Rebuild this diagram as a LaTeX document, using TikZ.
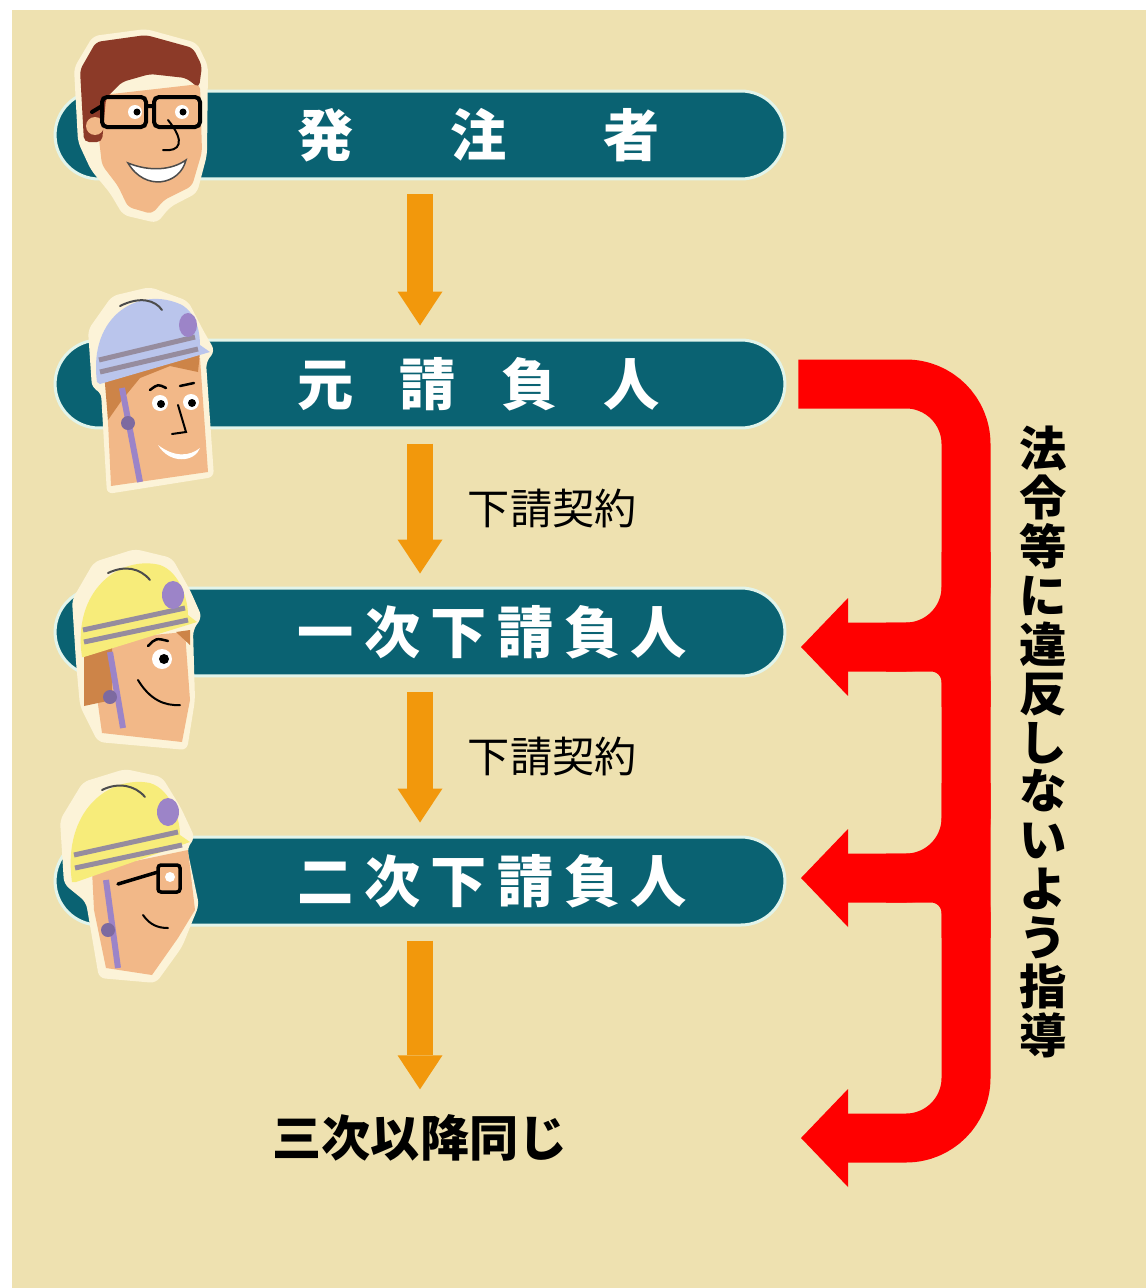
\documentclass[tikz,border=0pt]{standalone}
\usepackage{fontspec}
\newfontfamily\cjk{Noto Sans CJK JP}
\usetikzlibrary{shapes.misc, arrows.meta, positioning}

\definecolor{paper}{RGB}{238,225,176}
\definecolor{barteal}{RGB}{10,98,114}
\definecolor{barrim}{RGB}{226,244,234}
\definecolor{flowor}{RGB}{242,152,12}
\definecolor{guidered}{RGB}{255,0,0}
\definecolor{rim}{RGB}{252,243,216}
\definecolor{skin}{RGB}{242,184,136}
\definecolor{hairbrown}{RGB}{140,58,40}
\definecolor{hairtan}{RGB}{205,132,72}
\definecolor{helmetblue}{RGB}{186,197,236}
\definecolor{helmetyel}{RGB}{247,236,122}
\definecolor{stripe}{RGB}{150,140,158}
\definecolor{lamp}{RGB}{156,132,200}

\begin{document}
\begin{tikzpicture}[x=0.02cm, y=-0.02cm,
    bar/.style={rounded rectangle, minimum width=14.6cm, minimum height=1.76cm, inner sep=0, fill=barteal, draw=barrim, line width=0.06cm},
    bartext/.style={anchor=west, inner sep=0, text=white, font=\cjk\bfseries\fontsize{32pt}{32pt}\selectfont},
    flow/.style={draw=flowor, line width=0.52cm, -{Triangle[width=0.9cm, length=0.68cm, line width=0pt]}, shorten <=0.28cm, shorten >=0.26cm},
    contract/.style={right=0.7cm, inner sep=0, font=\cjk\fontsize{24pt}{24pt}\selectfont},
    guide/.style={draw=guidered, line width=0.98cm, rounded corners=1.2cm},
    guidetip/.style={-{Triangle[width=1.96cm, length=0.94cm, line width=0pt]}},
    face/.style={line width=0.04cm, line cap=round}]

    \useasboundingbox (0,0) rectangle (1146,1288);
    \fill[white] (0,0) rectangle (1146,1288);
    \fill[paper] (12,10) rectangle (1146,1288);

    % the four parties
    \node[bar] (hatchu) at (420,135) {};
    \node[bar] (motouke) at (420,384) {};
    \node[bar] (ichiji) at (420,632) {};
    \node[bar] (niji) at (420,881) {};
    \node[inner sep=0, font=\cjk\bfseries\fontsize{28pt}{28pt}\selectfont] (sanji) at (420,1138) {三次以降同じ};

    \node[bartext] (t-hatchu) at (297,135) {発\hspace{1.94cm}注\hspace{1.94cm}者};
    \node[bartext] (t-motouke) at (297,384) {元\hspace{0.92cm}請\hspace{0.92cm}負\hspace{0.92cm}人};
    \node[bartext] (t-ichiji) at (297,632) {一\hspace{0.21cm}次\hspace{0.21cm}下\hspace{0.21cm}請\hspace{0.21cm}負\hspace{0.21cm}人};
    \node[bartext] (t-niji) at (297,881) {二\hspace{0.21cm}次\hspace{0.21cm}下\hspace{0.21cm}請\hspace{0.21cm}負\hspace{0.21cm}人};

    % contract flow
    \draw[flow] (hatchu) -- (motouke);
    \draw[flow] (motouke) -- node[contract] (c1) {下請契約} (ichiji);
    \draw[flow] (ichiji) -- node[contract] (c2) {下請契約} (niji);
    \draw[flow, shorten >=0.5cm] (niji) -- (sanji);

    % guidance bracket
    \coordinate (spine) at (966,384);
    \coordinate (tip1) at (801,647);
    \coordinate (tip2) at (801,878);
    \coordinate (tip3) at (801,1138);
    \coordinate (join1) at (spine |- tip1);
    \coordinate (join2) at (spine |- tip2);
    \draw[guide, guidetip] ([xshift=0.24cm]motouke.east) -- (spine) -- (spine |- tip3) -- (tip3);
    \draw[guide, guidetip] ([yshift=1.9cm]join1) -- (join1) -- (tip1);
    \draw[guide, rounded corners=0.7cm] ([yshift=-1.2cm]join1) -- (join1) -- ([xshift=-1.6cm]join1);
    \draw[guide, guidetip] ([yshift=1.9cm]join2) -- (join2) -- (tip2);
    \draw[guide, rounded corners=0.7cm] ([yshift=-1.2cm]join2) -- (join2) -- ([xshift=-1.6cm]join2);

    \node[inner sep=0, align=center, font=\cjk\bfseries\fontsize{27pt}{27.8pt}\selectfont] (shidou) at (1043,742)
        {法\\令\\等\\に\\違\\反\\し\\な\\い\\よ\\う\\指\\導};

    % client head
    \fill[rim, rounded corners=0.12cm] (78,142) -- (74,68) -- (93,36) -- (146,29) -- (197,43) -- (208,66) -- (207,155) -- (197,193) -- (170,207) -- (157,223) -- (123,215) -- (110,193) -- (91,170) -- cycle;
    \fill[skin, rounded corners=0.1cm] (94,96) -- (200,84) -- (202,152) -- (192,186) -- (164,200) -- (152,214) -- (128,207) -- (118,186) -- (102,165) -- cycle;
    \fill[hairbrown, rounded corners=0.1cm] (84,142) -- (80,70) -- (96,42) -- (146,35) -- (193,48) -- (202,66) -- (199,88) -- (186,78) -- (150,74) -- (122,82) -- (106,98) -- (102,142) -- cycle;
    \fill[skin] (95,126) circle (9);
    \draw[face, line width=0.08cm, rounded corners=0.1cm] (102,97) rectangle (146,127) (154,97) rectangle (200,127);
    \draw[face, line width=0.08cm] (146,106) -- (154,106) (102,106) -- (92,112);
    \fill[white] (135,112) circle (7) (182,112) circle (7);
    \fill (137,112) circle (3.5) (183,112) circle (3.5);
    \draw[face] (168,120) .. controls (186,142) and (180,152) .. (163,150);
    \filldraw[fill=white, draw=black!70, line width=0.03cm] (128,163) .. controls (150,172) and (172,170) .. (186,160) .. controls (180,185) and (145,192) .. (128,163) -- cycle;

    % prime contractor head
    \fill[rim, rounded corners=0.12cm] (92,388) -- (88,330) -- (112,296) -- (150,287) -- (188,301) -- (203,330) -- (215,351) -- (206,362) -- (214,477) -- (107,494) -- (101,392) -- cycle;
    \fill[skin] (106,378) -- (200,358) -- (208,472) -- (111,486) -- cycle;
    \fill[hairtan] (104,372) -- (200,352) -- (198,372) -- (170,366) -- (140,378) -- (122,400) -- (108,420) -- cycle;
    \fill[helmetblue] (97,382) .. controls (88,315) and (140,285) .. (182,305) .. controls (198,315) and (200,335) .. (200,345) -- (210,352) -- (100,384) -- cycle;
    \draw[stripe, line width=0.1cm] (99,360) -- (195,337) (100,372) -- (198,349);
    \fill[lamp] (188,325) ellipse (9 and 12);
    \draw[face, black!70] (120,306) .. controls (140,296) and (155,300) .. (162,310);
    \draw[lamp, line width=0.12cm] (122,388) -- (140,482);
    \fill[lamp!80!black] (128,423) circle (7);
    \draw[face, line width=0.05cm] (150,390) .. controls (158,384) .. (166,388) (180,386) -- (194,383);
    \fill[white] (160,403) circle (8) (191,402) circle (8);
    \fill (161,404) circle (4) (192,403) circle (4);
    \draw[face] (178,405) -- (186,432) -- (172,434);
    \fill[white] (158,445) .. controls (175,458) and (190,456) .. (200,448) .. controls (195,462) and (170,465) .. (158,445) -- cycle;

    % first subcontractor head
    \fill[rim, rounded corners=0.12cm] (76,662) -- (72,600) -- (94,562) -- (135,549) -- (172,558) -- (190,590) -- (202,617) -- (193,630) -- (195,700) -- (187,750) -- (98,742) -- (80,706) -- cycle;
    \fill[skin] (100,640) -- (185,632) -- (190,700) -- (182,742) -- (102,733) -- (96,690) -- cycle;
    \fill[hairtan] (84,648) -- (112,645) -- (112,700) -- (84,706) -- cycle;
    \fill[hairtan] (176,632) -- (190,630) -- (190,645) -- cycle;
    \fill[helmetyel] (82,657) .. controls (72,590) and (120,555) .. (160,565) .. controls (180,572) and (188,600) .. (188,615) -- (197,622) -- (84,657) -- cycle;
    \draw[stripe, line width=0.1cm] (83,630) -- (185,608) (84,642) -- (188,620);
    \fill[lamp] (173,595) ellipse (11 and 14);
    \draw[face, black!70] (108,573) .. controls (125,565) and (140,568) .. (150,580);
    \draw[lamp, line width=0.12cm] (110,652) -- (123,728);
    \fill[lamp!80!black] (110,697) circle (7);
    \draw[face, line width=0.05cm] (148,646) .. controls (156,638) .. (168,641);
    \fill[white] (162,659) circle (10);
    \fill (164,659) circle (5);
    \draw[face] (138,680) .. controls (150,700) and (165,706) .. (180,705);

    % second subcontractor head
    \fill[rim, rounded corners=0.12cm] (64,884) -- (60,820) -- (83,782) -- (125,769) -- (162,777) -- (181,808) -- (195,838) -- (187,848) -- (199,905) -- (182,947) -- (156,983) -- (99,978) -- (86,902) -- cycle;
    \fill[skin] (92,870) -- (188,850) -- (195,910) -- (178,938) -- (152,975) -- (106,968) -- (94,910) -- cycle;
    \fill[helmetyel] (72,882) .. controls (62,810) and (110,775) .. (150,783) .. controls (172,790) and (180,820) .. (180,835) -- (190,842) -- (76,882) -- cycle;
    \draw[stripe, line width=0.1cm] (74,855) -- (178,832) (75,868) -- (182,845);
    \fill[lamp] (168,812) ellipse (11 and 14);
    \draw[face, black!70] (102,790) .. controls (118,782) and (135,785) .. (145,797);
    \draw[lamp, line width=0.12cm] (106,880) -- (118,968);
    \fill[lamp!80!black] (108,930) circle (7);
    \fill[white] (170,877) circle (5);
    \draw[face, line width=0.07cm] (118,884) -- (158,872);
    \draw[face, line width=0.07cm, rounded corners=0.06cm] (158,865) rectangle (180,892);
    \draw[face] (143,915) .. controls (150,925) and (158,928) .. (168,928);
\end{tikzpicture}
\end{document}
